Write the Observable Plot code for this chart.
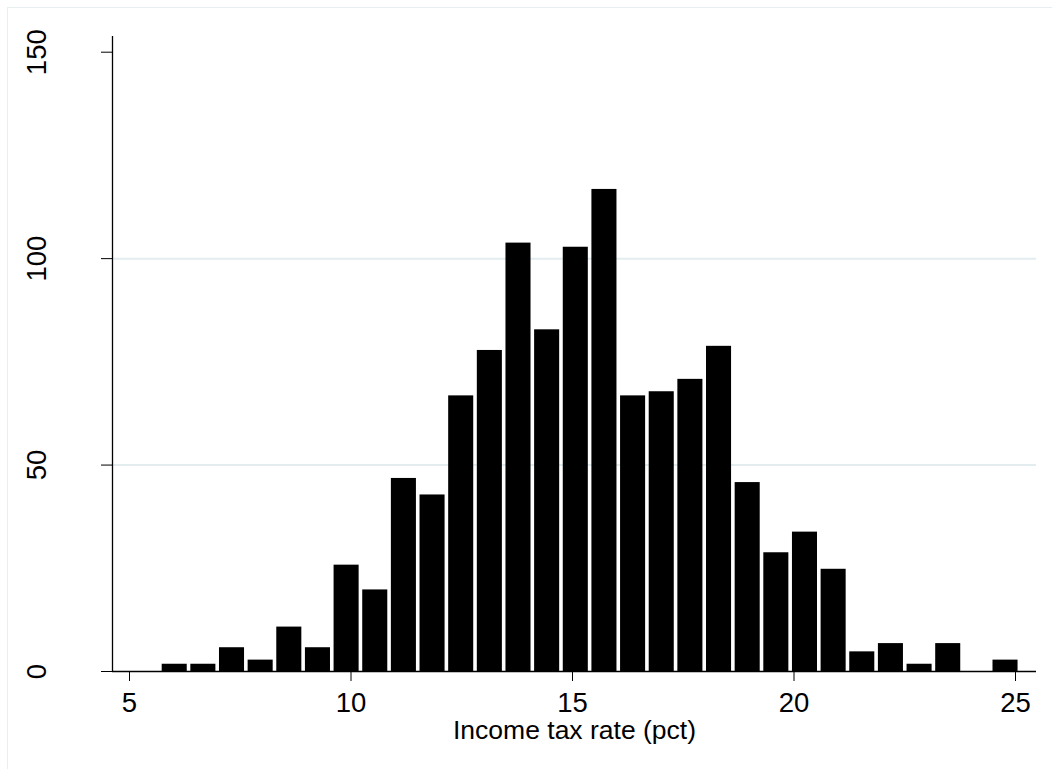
<!DOCTYPE html>
<html><head><meta charset="utf-8">
<script src="https://cdn.jsdelivr.net/npm/d3@7"></script>
<script src="https://cdn.jsdelivr.net/npm/@observablehq/plot@0.6"></script>
<style>
html,body{margin:0;padding:0;background:#fff;}
#wrap{position:relative;width:1052px;height:769px;overflow:hidden;}
#border{position:absolute;left:7px;top:7px;width:1100px;height:800px;border-top:1px solid #e6eef0;border-left:1px solid #e6eef0;}
#chart{position:absolute;left:0;top:0;}
</style></head><body>
<div id="wrap"><div id="border"></div><div id="chart"></div></div>
<script>
// Histogram counts (30 bins)
const counts = [2,2,6,3,11,6,26,20,47,43,67,78,104,83,103,117,67,68,71,79,46,29,34,25,5,7,2,7,0,3];
const binStart = 5.697;
const binWidth = 0.6467;
const xTicks = [5,10,15,20,25];
const yTicks = [0,50,100,150];
const gridTicks = [50,100];
const xLabel = "Income tax rate (pct)";
const xDomain = [4.616, 25.474];
const yDomain = [0, 153.8];

const bins = counts
  .map((c, i) => ({x1: binStart + i * binWidth, x2: binStart + (i + 1) * binWidth, count: c}))
  .filter(d => d.count > 0);

const chart = Plot.plot({
  width: 1052, height: 769,
  marginLeft: 112, marginRight: 16, marginTop: 36, marginBottom: 98,
  x: {domain: xDomain},
  y: {domain: yDomain},
  style: {fontFamily: "'Liberation Sans', Arial, Helvetica, sans-serif", background: "transparent", color: "#000"},
  marks: [
    Plot.ruleY(gridTicks, {stroke: "#e3ecef", strokeWidth: 2}),
    Plot.rectY(bins, {x1: "x1", x2: "x2", y: "count", fill: "#000", insetLeft: 1.8, insetRight: 1.8, insetTop: 1}),
    Plot.ruleY([0], {stroke: "#000", strokeWidth: 1.3}),
    Plot.ruleX([xDomain[0]], {stroke: "#000", strokeWidth: 1.3}),
    Plot.axisX({ticks: xTicks, tickSize: 10, tickPadding: 11, fontSize: 27.5, label: null, tickFormat: d => String(d)}),
    Plot.axisY({ticks: yTicks, tickSize: 11, fill: "none", label: null}),
    Plot.text(yTicks, {y: d => d, text: d => String(d), frameAnchor: "left", textAnchor: "middle", lineAnchor: "middle", dx: -75, rotate: -90, fontSize: 27.5, fill: "#000"}),
    Plot.text([xLabel], {frameAnchor: "bottom", text: d => d, textAnchor: "middle", lineAnchor: "top", dy: 49, fontSize: 26.5, fill: "#000"})
  ]
});
document.getElementById("chart").appendChild(chart);
</script>
</body></html>
